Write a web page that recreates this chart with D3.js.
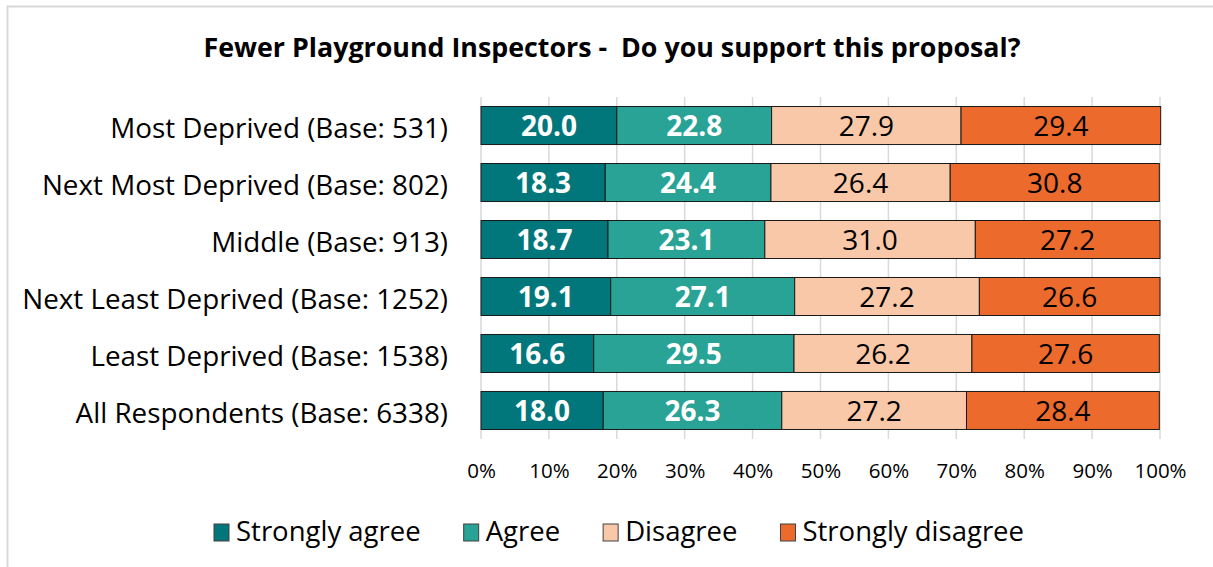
<!DOCTYPE html>
<html>
<head>
<meta charset="utf-8">
<script src="https://cdn.jsdelivr.net/npm/d3@7"></script>
<style>
  body { margin: 0; background: #fff; }
  text { font-family: "Open Sans", sans-serif; }
</style>
</head>
<body>
<script>
// chart data
var categories = [
    "Most Deprived (Base: 531)",
    "Next Most Deprived (Base: 802)",
    "Middle (Base: 913)",
    "Next Least Deprived (Base: 1252)",
    "Least Deprived (Base: 1538)",
    "All Respondents (Base: 6338)"
];
var seriesNames = ["Strongly agree", "Agree", "Disagree", "Strongly disagree"];
var stronglyAgree    = [20.0, 18.3, 18.7, 19.1, 16.6, 18.0];
var agree            = [22.8, 24.4, 23.1, 27.1, 29.5, 26.3];
var disagree         = [27.9, 26.4, 31.0, 27.2, 26.2, 27.2];
var stronglyDisagree = [29.4, 30.8, 27.2, 26.6, 27.6, 28.4];
var tickValues = [0, 10, 20, 30, 40, 50, 60, 70, 80, 90, 100];

var colors = ["#02777b", "#29a396", "#f8c8a8", "#ec6a2c"];
var labelColors = ["#fff", "#fff", "#000", "#000"];
var labelWeights = ["bold", "bold", "normal", "normal"];

window.onload = drawChart();

function drawChart(){
    var width = 1213, height = 567;

    var svg = d3.select("body").append("svg")
        .attr("width", width)
        .attr("height", height);

    //outer frame (cut off at right and bottom like the original)
    svg.append("rect")
        .attr("x", 7.5).attr("y", 6.5)
        .attr("width", 1220).attr("height", 600)
        .attr("fill", "none")
        .attr("stroke", "#d9d9d9")
        .attr("stroke-width", 2);

    svg.append("text")
        .attr("x", 612).attr("y", 57)
        .attr("text-anchor", "middle")
        .style("font-size", "26.8px")
        .style("font-weight", "bold")
        .attr("xml:space", "preserve")
        .text("Fewer Playground Inspectors -  Do you support this proposal?");

    var x = d3.scaleLinear().domain([0, 100]).range([481, 1160]);
    var y = d3.scaleBand().domain(categories).range([97, 439]).paddingInner(0.333).paddingOuter(0.167);

    //gridlines
    svg.selectAll(".grid")
        .data(tickValues)
        .enter().append("line")
        .attr("class", "grid")
        .attr("x1", function(d){ return x(d); })
        .attr("x2", function(d){ return x(d); })
        .attr("y1", 97).attr("y2", 439)
        .attr("stroke", "#d9d9d9")
        .attr("stroke-width", 1.5);

    //stack the series
    var table = categories.map(function(c, i){
        return { cat: c, s0: stronglyAgree[i], s1: agree[i], s2: disagree[i], s3: stronglyDisagree[i] };
    });
    var layers = d3.stack().keys(["s0", "s1", "s2", "s3"])(table);

    var groups = svg.selectAll(".layer")
        .data(layers)
        .enter().append("g")
        .attr("class", "layer");

    groups.each(function(layer, li){
        var g = d3.select(this);
        g.selectAll("rect")
            .data(layer)
            .enter().append("rect")
            .attr("x", function(d){ return x(d[0]); })
            .attr("y", function(d){ return y(d.data.cat); })
            .attr("width", function(d){ return x(d[1]) - x(d[0]); })
            .attr("height", y.bandwidth())
            .attr("fill", colors[li])
            .attr("stroke", "#1a1a1a")
            .attr("stroke-width", 1);

        g.selectAll(".val")
            .data(layer)
            .enter().append("text")
            .attr("class", "val")
            .attr("x", function(d){ return (x(d[0]) + x(d[1])) / 2; })
            .attr("y", function(d){ return y(d.data.cat) + y.bandwidth() / 2; })
            .attr("dy", "0.38em")
            .attr("text-anchor", "middle")
            .style("font-size", "28px")
            .style("font-weight", labelWeights[li])
            .attr("fill", labelColors[li])
            .text(function(d){ return (d[1] - d[0]).toFixed(1); });
    });

    //category labels
    svg.selectAll(".cat")
        .data(categories)
        .enter().append("text")
        .attr("class", "cat")
        .attr("x", 448)
        .attr("y", function(d){ return y(d) + y.bandwidth() / 2; })
        .attr("dy", "0.45em")
        .attr("text-anchor", "end")
        .style("font-size", "27.8px")
        .attr("fill", "#000")
        .text(function(d){ return d; });

    //x axis tick labels
    var axis = svg.append("g")
        .attr("transform", "translate(0,439)")
        .call(d3.axisBottom(x).tickValues(tickValues).tickSize(0)
            .tickFormat(function(d){ return d + "%"; }));
    axis.select(".domain").remove();
    axis.selectAll("text")
        .attr("y", 39)
        .attr("dy", null)
        .style("font-size", "20.5px")
        .style("font-family", "'Open Sans', sans-serif")
        .attr("fill", "#000");

    //legend, laid out from measured text widths and centred
    var legend = svg.selectAll(".leg")
        .data(seriesNames)
        .enter().append("g")
        .attr("class", "leg");
    legend.append("rect")
        .attr("y", 524)
        .attr("width", 15).attr("height", 17)
        .attr("fill", function(d, i){ return colors[i]; })
        .attr("stroke", "#404040")
        .attr("stroke-width", 1);
    legend.append("text")
        .attr("x", 22)
        .attr("y", 541)
        .style("font-size", "27.5px")
        .attr("fill", "#000")
        .text(function(d){ return d; });

    var widths = [];
    legend.select("text").each(function(){ widths.push(22 + this.getComputedTextLength()); });
    var gap = 43;
    var total = d3.sum(widths) + gap * (widths.length - 1);
    var pos = 619 - total / 2;
    legend.attr("transform", function(d, i){
        var t = "translate(" + pos + ",0)";
        pos += widths[i] + gap;
        return t;
    });
}
</script>
</body>
</html>
